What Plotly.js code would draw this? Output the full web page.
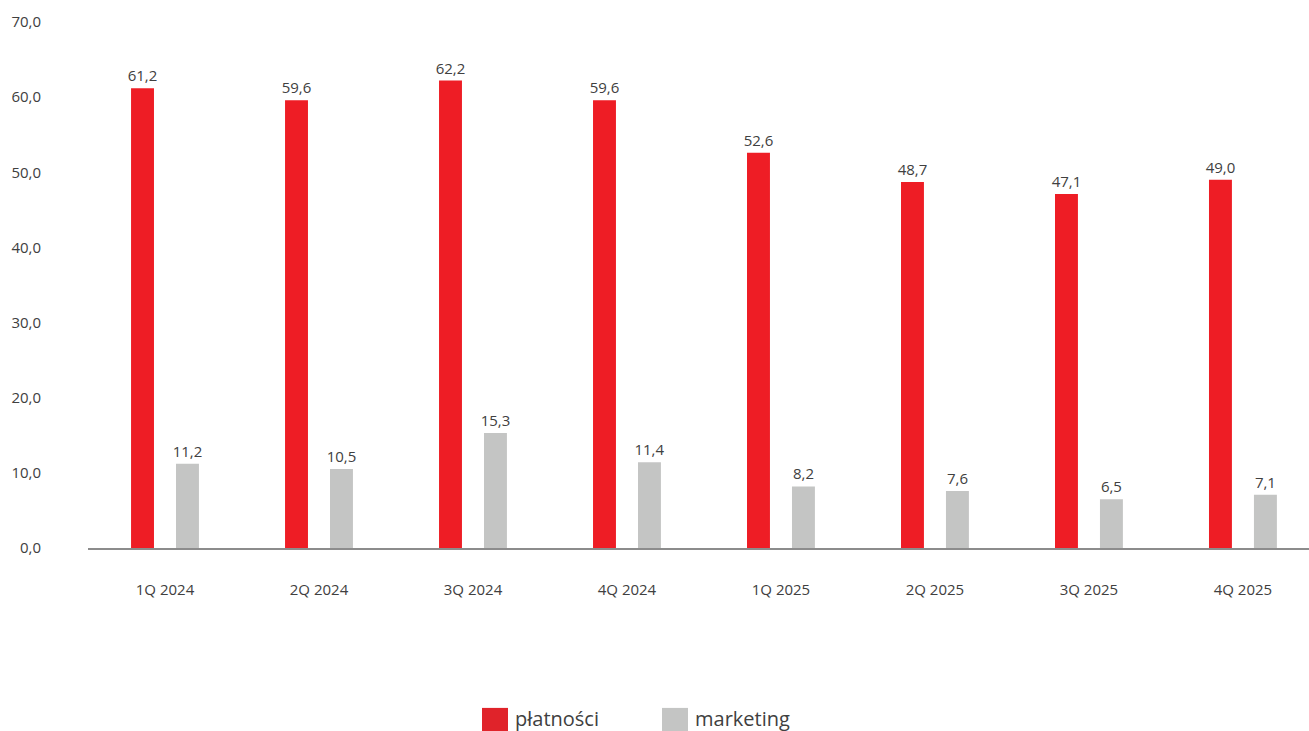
<!DOCTYPE html>
<html>
<head>
<meta charset="utf-8">
<script src="https://cdn.plot.ly/plotly-3.0.1.min.js"></script>
<style>
html,body{margin:0;padding:0;background:#fff;}
#chart{width:1309px;height:731px;}
</style>
</head>
<body>
<div id="chart"></div>
<script>
var categories = ["1Q 2024","2Q 2024","3Q 2024","4Q 2024","1Q 2025","2Q 2025","3Q 2025","4Q 2025"];
var seriesNames = ["płatności","marketing"];
var platnosci = [61.2, 59.6, 62.2, 59.6, 52.6, 48.7, 47.1, 49.0];
var marketing = [11.2, 10.5, 15.3, 11.4, 8.2, 7.6, 6.5, 7.1];
var yTicks = [0,10,20,30,40,50,60,70];

var red = "#EE1D25", gray = "#C4C5C4", txt = "#404040";
var fontFam = "Open Sans, sans-serif";

function barTrace(name, vals, color){
  return {
    type: "bar", name: name, x: categories, y: vals,
    marker: {color: color},
    text: vals.map(function(v){return v.toFixed(1).replace(".", ",");}),
    textposition: "outside", cliponaxis: false, constraintext: "none",
    textfont: {family: fontFam, size: 15, color: txt},
    hoverinfo: "skip", showlegend: false
  };
}

var data = [barTrace(seriesNames[0], platnosci, red), barTrace(seriesNames[1], marketing, gray)];

var legendColors = [ "#E0232A", gray ];
var legendX = [0.3227, 0.4701];
var shapes = [], annotations = [];
seriesNames.forEach(function(n, i){
  shapes.push({type:"rect", xref:"paper", yref:"paper",
    x0: legendX[i], x1: legendX[i] + 0.0213, y0: -0.304, y1: -0.36,
    fillcolor: legendColors[i], line: {width: 0}, layer: "above"});
  annotations.push({xref:"paper", yref:"paper", x: legendX[i] + 0.0255, y: -0.324,
    xanchor:"left", yanchor:"middle", showarrow:false, text: n,
    font:{family: fontFam, size: 20, color: txt}});
});

var layout = {
  width: 1309, height: 731,
  margin: {l: 88, r: 0, t: 22, b: 183},
  paper_bgcolor: "#fff", plot_bgcolor: "#fff",
  separators: ", ",
  barmode: "group", bargap: 0.416, bargroupgap: 0.49,
  showlegend: false,
  font: {family: fontFam, color: txt},
  xaxis: {
    type: "category", range: [-0.5, 7.429],
    showgrid: false, zeroline: false,
    showline: true, linecolor: "#8C8C8C", linewidth: 2,
    ticks: "", ticklabelstandoff: 27,
    tickfont: {family: fontFam, size: 15, color: txt}
  },
  yaxis: {
    range: [0, 70], tickvals: yTicks,
    ticktext: yTicks.map(function(v){return v.toFixed(1).replace(".", ",");}),
    showgrid: false, zeroline: false, showline: false,
    ticks: "", ticklabelstandoff: 46,
    tickfont: {family: fontFam, size: 15, color: txt}
  },
  shapes: shapes,
  annotations: annotations
};

Plotly.newPlot("chart", data, layout, {staticPlot: true, displayModeBar: false});
</script>
</body>
</html>
